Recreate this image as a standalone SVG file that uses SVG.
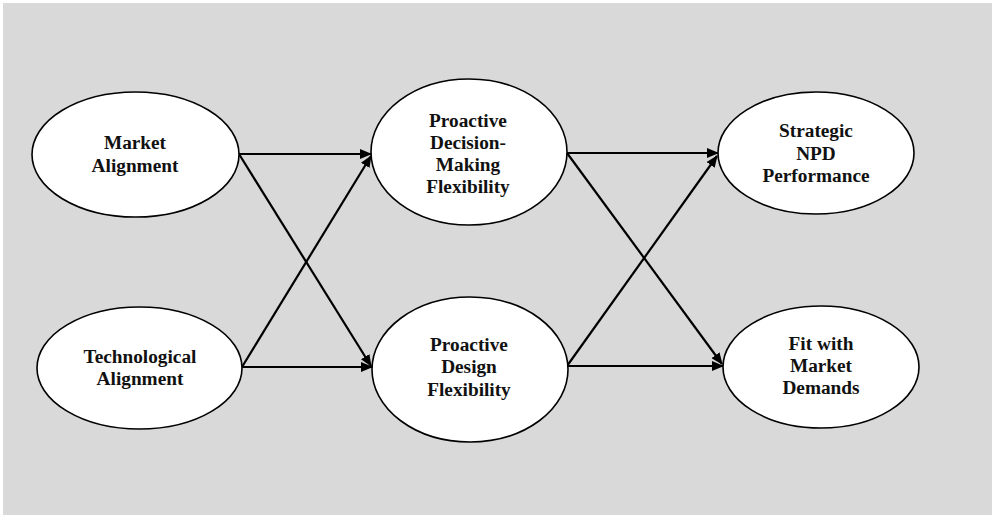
<svg xmlns="http://www.w3.org/2000/svg" width="992" height="515" viewBox="0 0 992 515">
<style>
.node ellipse{fill:#ffffff;stroke:#000;stroke-width:1.6}
.node text{font-family:"Liberation Serif","Times New Roman",serif;font-weight:bold;font-size:19.3px;fill:#111;text-anchor:middle}
.conn line{stroke:#000;stroke-width:2.2;marker-end:url(#ah)}
</style>
<defs>
<marker id="ah" markerWidth="12" markerHeight="10" refX="11" refY="5" orient="auto" markerUnits="userSpaceOnUse">
<path d="M0,0 L12,5 L0,10 Z" fill="#000"/>
</marker>
</defs>
<rect x="0" y="0" width="992" height="515" fill="#ffffff"/>
<rect x="3" y="3" width="989" height="512" fill="#d9d9d9"/>
<g class="conn" id="connectors">
<line x1="239" y1="154" x2="371" y2="154"/>
<line x1="239" y1="154" x2="371" y2="366"/>
<line x1="242" y1="367" x2="371" y2="156"/>
<line x1="242" y1="367" x2="372" y2="367"/>
<line x1="567" y1="153" x2="718" y2="153"/>
<line x1="567" y1="153" x2="722" y2="364"/>
<line x1="567" y1="366" x2="717" y2="156"/>
<line x1="567" y1="366" x2="723" y2="366"/>
</g>
<g class="node" id="market-alignment">
<ellipse cx="135.5" cy="154.5" rx="103.5" ry="62.5"/>
<text x="135" y="149">Market</text>
<text x="135" y="172">Alignment</text>
</g>
<g class="node" id="technological-alignment">
<ellipse cx="139.5" cy="368" rx="102.5" ry="61"/>
<text x="140" y="362.5">Technological</text>
<text x="140" y="385">Alignment</text>
</g>
<g class="node" id="proactive-decision-making-flexibility">
<ellipse cx="469" cy="152" rx="98" ry="73"/>
<text x="468" y="126.5">Proactive</text>
<text x="468" y="148.5">Decision-</text>
<text x="468" y="171">Making</text>
<text x="468" y="193">Flexibility</text>
</g>
<g class="node" id="proactive-design-flexibility">
<ellipse cx="470" cy="369.5" rx="98" ry="72.5"/>
<text x="469" y="350.5">Proactive</text>
<text x="469" y="373">Design</text>
<text x="469" y="396">Flexibility</text>
</g>
<g class="node" id="strategic-npd-performance">
<ellipse cx="816" cy="153" rx="98" ry="61"/>
<text x="816" y="136.5">Strategic</text>
<text x="816" y="159.5">NPD</text>
<text x="816" y="181.5">Performance</text>
</g>
<g class="node" id="fit-with-market-demands">
<ellipse cx="821" cy="367" rx="98" ry="61"/>
<text x="821" y="349.5">Fit with</text>
<text x="821" y="371.5">Market</text>
<text x="821" y="394">Demands</text>
</g>
</svg>
